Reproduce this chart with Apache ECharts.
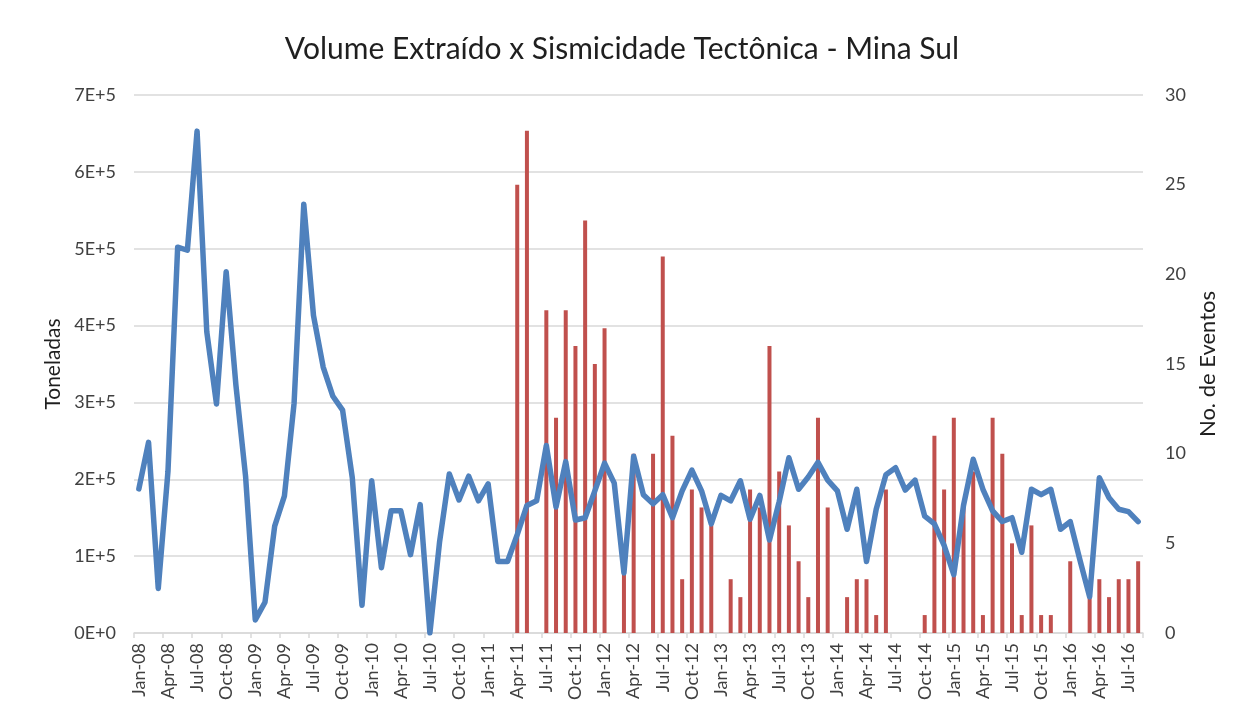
<!DOCTYPE html>
<html>
<head>
<meta charset="utf-8">
<title>Volume Extraído x Sismicidade Tectônica - Mina Sul</title>
<script src="https://cdn.jsdelivr.net/npm/echarts@6/dist/echarts.min.js"></script>
<style>
  html, body { margin: 0; padding: 0; background: #ffffff; }
  #chart { width: 1244px; height: 717px; }
</style>
</head>
<body>
<div id="chart"></div>
<script>
// Monthly categories, Jan-08 .. Aug-16
const monthNames = ['Jan','Feb','Mar','Apr','May','Jun','Jul','Aug','Sep','Oct','Nov','Dec'];
const firstYear = 2008, lastYear = 2016, lastMonthOfLastYear = 8;
const categories = [];
for (let y = firstYear; y <= lastYear; y++) {
  const end = (y === lastYear) ? lastMonthOfLastYear : 12;
  for (let m = 0; m < end; m++) {
    categories.push(monthNames[m] + '-' + String(y % 100).padStart(2, '0'));
  }
}

// Extracted volume per month (tonnes)
const volume = [
  187500, 248000,  58000, 210000, 502000, 498000, 653000, 392000, 298000, 470000, 323000, 204000, // 2008
   17000,  40000, 139000, 178000, 299000, 558000, 413000, 346000, 308000, 290000, 202000,  36000, // 2009
  198000,  85000, 159000, 159000, 102000, 167000,      0, 119000, 207000, 173000, 204000, 172000, // 2010
  194000,  93000,  93000, 128000, 166000, 172000, 244000, 164000, 223000, 147000, 150000, 185000, // 2011
  221000, 195000,  78000, 230000, 180000, 168000, 180000, 150000, 185000, 212000, 185000, 142000, // 2012
  179000, 172000, 198000, 148000, 179000, 121000, 171000, 228000, 187000, 203000, 222000, 199000, // 2013
  185000, 135000, 187000,  93000, 161000, 206000, 215000, 186000, 199000, 152000, 142000, 114000, // 2014
   76000, 166000, 226000, 187000, 159000, 145000, 150000, 105000, 187000, 180000, 187000, 135000, // 2015
  145000,  95000,  47000, 202000, 176000, 161000, 158000, 145000                                  // 2016
];

// Tectonic seismic events per month
const events = [
   0,  0,  0,  0,  0,  0,  0,  0,  0,  0,  0,  0, // 2008
   0,  0,  0,  0,  0,  0,  0,  0,  0,  0,  0,  0, // 2009
   0,  0,  0,  0,  0,  0,  0,  0,  0,  0,  0,  0, // 2010
   0,  0,  0, 25, 28,  0, 18, 12, 18, 16, 23, 15, // 2011
  17,  0,  4, 10,  0, 10, 21, 11,  3,  8,  7,  6, // 2012
   0,  3,  2,  8,  7, 16,  9,  6,  4,  2, 12,  7, // 2013
   0,  2,  3,  3,  1,  8,  0,  0,  0,  1, 11,  8, // 2014
  12,  7,  9,  1, 12, 10,  5,  1,  6,  1,  1,  0, // 2015
   4,  0,  2,  3,  2,  3,  3,  4                  // 2016
];

// Left axis tick labels (0E+0 .. 7E+5)
const volumeTicks = ['0E+0','1E+5','2E+5','3E+5','4E+5','5E+5','6E+5','7E+5'];

const FONT = 'Lato, "Open Sans", sans-serif';
const TEXT = '#404040';
const GRID = '#d9d9d9';

const chart = echarts.init(document.getElementById('chart'), null, { renderer: 'canvas' });

chart.setOption({
  animation: false,
  backgroundColor: '#ffffff',
  textStyle: { fontFamily: FONT },
  title: {
    text: 'Volume Extraído x Sismicidade Tectônica - Mina Sul',
    left: 'center',
    top: 29,
    textStyle: { fontFamily: FONT, fontSize: 30, fontWeight: 'normal', color: '#1f1f1f' }
  },
  grid: { left: 134, right: 101, top: 95, bottom: 84 },
  xAxis: {
    type: 'category',
    data: categories,
    boundaryGap: true,
    axisLine: { lineStyle: { color: GRID, width: 1.5 } },
    axisTick: { show: true, interval: 2, length: 5, lineStyle: { color: GRID, width: 1.5 } },
    axisLabel: {
      interval: 2,
      rotate: 90,
      margin: 10,
      fontFamily: FONT,
      fontSize: 18,
      color: TEXT
    },
    splitLine: { show: false }
  },
  yAxis: [
    {
      type: 'value',
      min: 0,
      max: 700000,
      interval: 100000,
      name: 'Toneladas',
      nameLocation: 'middle',
      nameRotate: 90,
      nameGap: 70,
      nameTextStyle: { fontFamily: FONT, fontSize: 21, color: '#1f1f1f' },
      axisLine: { show: false },
      axisTick: { show: false },
      axisLabel: {
        margin: 18,
        fontFamily: FONT,
        fontSize: 18,
        color: TEXT,
        formatter: (v) => volumeTicks[Math.round(v / 100000)]
      },
      splitLine: { show: true, lineStyle: { color: GRID, width: 1.5 } }
    },
    {
      type: 'value',
      min: 0,
      max: 30,
      interval: 5,
      position: 'right',
      name: 'No. de Eventos',
      nameLocation: 'middle',
      nameRotate: 90,
      nameGap: 53,
      nameTextStyle: { fontFamily: FONT, fontSize: 22, color: '#1f1f1f' },
      axisLine: { show: false },
      axisTick: { show: false },
      axisLabel: { margin: 22, fontFamily: FONT, fontSize: 18, color: TEXT },
      splitLine: { show: false }
    }
  ],
  series: [
    {
      name: 'No. de Eventos',
      type: 'bar',
      yAxisIndex: 1,
      data: events,
      barWidth: 4,
      itemStyle: { color: '#c0504d' },
      z: 2
    },
    {
      name: 'Toneladas',
      type: 'line',
      yAxisIndex: 0,
      data: volume,
      showSymbol: false,
      symbol: 'none',
      smooth: false,
      lineStyle: { color: '#4f81bd', width: 5.5, join: 'round', cap: 'round' },
      itemStyle: { color: '#4f81bd' },
      z: 3
    }
  ]
});
</script>
</body>
</html>
